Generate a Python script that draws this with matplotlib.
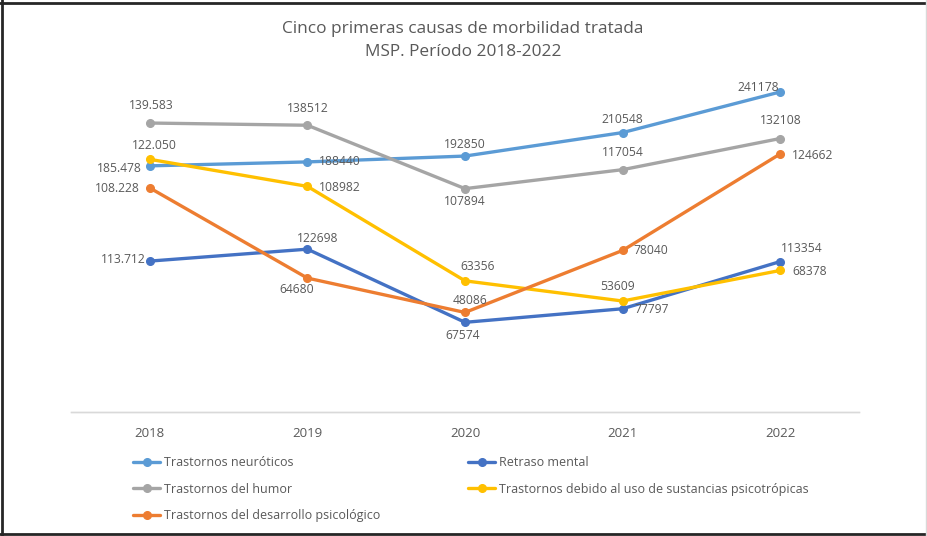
import matplotlib.pyplot as plt
from matplotlib.lines import Line2D

years = ['2018', '2019', '2020', '2021', '2022']
neuroticos = [185478, 188440, 192850, 210548, 241178]
retraso = [113712, 122698, 67574, 77797, 113354]
humor = [139583, 138512, 107894, 117054, 132108]
sustancias = [122050, 108982, 63356, 53609, 68378]
desarrollo = [108228, 64680, 48086, 78040, 124662]

names = {
    'neuro': 'Trastornos neuróticos',
    'retraso': 'Retraso mental',
    'humor': 'Trastornos del humor',
    'sust': 'Trastornos debido al uso de sustancias psicotrópicas',
    'desa': 'Trastornos del desarrollo psicológico',
}
colors = {'neuro': '#5B9BD5', 'retraso': '#4472C4', 'humor': '#A5A5A5',
          'sust': '#FFC000', 'desa': '#ED7D31'}

# label offsets in pixels (dx, dy down), horizontal alignment
offsets = {
    'neuro': [(-8, 3, 'right'), (12, 0, 'left'), (0, -12, 'center'), (0, -13, 'center'), (-1, -4, 'right')],
    'retraso': [(-4, -2, 'right'), (10, -11, 'center'), (-2, 13, 'center'), (12, 1, 'left'), (22, -13, 'center')],
    'humor': [(2, -18, 'center'), (0, -17, 'center'), (0, 13, 'center'), (0, -17, 'center'), (1, -18, 'center')],
    'sust': [(5, -14, 'center'), (12, 1, 'left'), (13, -14, 'center'), (-5, -15, 'center'), (12, 1, 'left')],
    'desa': [(-10, 1, 'right'), (-11, 11, 'center'), (5, -12, 'center'), (11, 0, 'left'), (12, 2, 'left')],
}

txt = '#595959'
plt.rcParams['font.family'] = ['Open Sans', 'DejaVu Sans']

fig = plt.figure(figsize=(9.28, 5.36), dpi=100)
ax = fig.add_axes([71 / 928, 1 - 412 / 536, 788 / 928, 342 / 536])
ax2 = ax.twinx()

x = list(range(len(years)))


def draw(a, key, vals):
    ln, = a.plot(x, vals, color=colors[key], lw=2.4, marker='o', ms=5.5,
                 label=names[key], solid_capstyle='round')
    for i, v in enumerate(vals):
        s = f"{v:,}".replace(',', '.') if i == 0 else str(v)
        dx, dy, ha = offsets[key][i]
        a.annotate(s, (i, v), xytext=(dx, -dy), textcoords='offset pixels',
                   ha=ha, va='center', fontsize=8.7, color=txt)
    return ln


h_neuro = draw(ax, 'neuro', neuroticos)
h_ret = draw(ax, 'retraso', retraso)
h_hum = draw(ax2, 'humor', humor)
h_sus = draw(ax2, 'sust', sustancias)
h_des = draw(ax2, 'desa', desarrollo)

ax.set_ylim(0, 257700)
ax2.set_ylim(0, 165200)
ax.set_xlim(-0.5, 4.5)
for a in (ax, ax2):
    a.set_yticks([])
    for sp in ('top', 'left', 'right'):
        a.spines[sp].set_visible(False)
    a.spines['bottom'].set_color('#D9D9D9')
    a.spines['bottom'].set_linewidth(1)
ax.set_xticks(x)
ax.set_xticklabels(years, fontsize=9.5, color=txt)
ax.tick_params(axis='x', length=0, pad=11)

fig.text(463 / 928, 1 - 29 / 536, 'Cinco primeras causas de morbilidad tratada',
         ha='center', va='center', fontsize=12.4, color=txt)
fig.text(463 / 928, 1 - 52 / 536, 'MSP. Período 2018-2022',
         ha='center', va='center', fontsize=12.4, color=txt)

leg_kw = dict(frameon=False, fontsize=9, handlelength=2.2, handletextpad=0.25,
              labelspacing=1.1, borderpad=0, borderaxespad=0, labelcolor=txt)
leg1 = fig.legend([h_neuro, h_hum, h_des], [names['neuro'], names['humor'], names['desa']],
                  loc='upper left', bbox_to_anchor=(133 / 928, 1 - 456 / 536), **leg_kw)
leg2 = fig.legend([h_ret, h_sus], [names['retraso'], names['sust']],
                  loc='upper left', bbox_to_anchor=(468 / 928, 1 - 456 / 536), **leg_kw)

# picture frame
fig.add_artist(Line2D([2 / 928, 2 / 928], [0, 1], color='#262626', lw=2, transform=fig.transFigure))
fig.add_artist(Line2D([0, 1], [1 - 3 / 536, 1 - 3 / 536], color='#262626', lw=2, transform=fig.transFigure))
fig.add_artist(Line2D([0, 1], [1 - 534 / 536, 1 - 534 / 536], color='#262626', lw=2, transform=fig.transFigure))
fig.add_artist(Line2D([926 / 928, 926 / 928], [0, 1], color='#D9D9D9', lw=1, transform=fig.transFigure))

fig.savefig('out.png', dpi=100)
